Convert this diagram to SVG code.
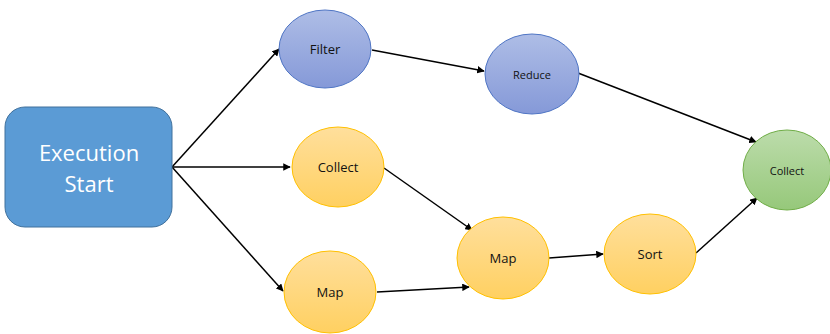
<svg xmlns="http://www.w3.org/2000/svg" width="830" height="334" viewBox="0 0 830 334">
  <defs>
    <linearGradient id="gBlue" x1="0" y1="0" x2="0" y2="1">
      <stop offset="0" stop-color="#aebde6"/>
      <stop offset="1" stop-color="#8599d8"/>
    </linearGradient>
    <linearGradient id="gOrange" x1="0" y1="0" x2="0" y2="1">
      <stop offset="0" stop-color="#ffdf9c"/>
      <stop offset="1" stop-color="#ffd061"/>
    </linearGradient>
    <linearGradient id="gGreen" x1="0" y1="0" x2="0" y2="1">
      <stop offset="0" stop-color="#bcdcab"/>
      <stop offset="1" stop-color="#96c87a"/>
    </linearGradient>
    <marker id="arrow" viewBox="0 0 10 10" refX="9" refY="5" markerWidth="5" markerHeight="5" orient="auto" markerUnits="strokeWidth">
      <path d="M0,0 L10,5 L0,10 z" fill="#000"/>
    </marker>
  </defs>
  <style>
    .edge { stroke: #000; stroke-width: 1.5; fill: none; marker-end: url(#arrow); }
    .blue { fill: url(#gBlue); stroke: #4f75c4; stroke-width: 1; }
    .orange { fill: url(#gOrange); stroke: #ffc000; stroke-width: 1; }
    .green { fill: url(#gGreen); stroke: #70ad47; stroke-width: 1; }
    .lbl { font-family: "Open Sans", "Liberation Sans", sans-serif; fill: #111; text-anchor: middle; dominant-baseline: central; }
    .start { font-family: "Open Sans", "Liberation Sans", sans-serif; fill: #fff; text-anchor: middle; font-size: 22px; }
  </style>

  <g id="edges">
    <line class="edge" x1="172" y1="167" x2="279" y2="49"/>
    <line class="edge" x1="172" y1="167" x2="290" y2="167"/>
    <line class="edge" x1="172" y1="167" x2="283" y2="291"/>
    <line class="edge" x1="372" y1="50" x2="484" y2="71"/>
    <line class="edge" x1="578" y1="73" x2="756" y2="142"/>
    <line class="edge" x1="384" y1="168" x2="472" y2="230"/>
    <line class="edge" x1="377" y1="292" x2="469" y2="287"/>
    <line class="edge" x1="549" y1="258" x2="603" y2="254"/>
    <line class="edge" x1="696" y1="253" x2="757" y2="198"/>
  </g>

  <g id="execution-start">
    <rect x="5" y="107" width="167" height="120" rx="20" fill="#5b9bd5" stroke="#41719c" stroke-width="1"/>
    <text class="start" x="89" y="161">Execution</text>
    <text class="start" x="89" y="192">Start</text>
  </g>

  <g id="filter">
    <ellipse class="blue" cx="325" cy="49" rx="46" ry="39"/>
    <text class="lbl" x="325" y="49" font-size="13">Filter</text>
  </g>

  <g id="reduce">
    <ellipse class="blue" cx="532" cy="74" rx="47" ry="40"/>
    <text class="lbl" x="532" y="74" font-size="11">Reduce</text>
  </g>

  <g id="collect-final">
    <ellipse class="green" cx="787" cy="170" rx="44" ry="40"/>
    <text class="lbl" x="787" y="170" font-size="11">Collect</text>
  </g>

  <g id="collect">
    <ellipse class="orange" cx="338" cy="167" rx="46" ry="40"/>
    <text class="lbl" x="338" y="167" font-size="13">Collect</text>
  </g>

  <g id="map-join">
    <ellipse class="orange" cx="503" cy="258" rx="46" ry="41"/>
    <text class="lbl" x="503" y="258" font-size="13">Map</text>
  </g>

  <g id="map">
    <ellipse class="orange" cx="330" cy="292" rx="46" ry="41"/>
    <text class="lbl" x="330" y="292" font-size="13">Map</text>
  </g>

  <g id="sort">
    <ellipse class="orange" cx="650" cy="254" rx="46" ry="40"/>
    <text class="lbl" x="650" y="254" font-size="13">Sort</text>
  </g>
</svg>
